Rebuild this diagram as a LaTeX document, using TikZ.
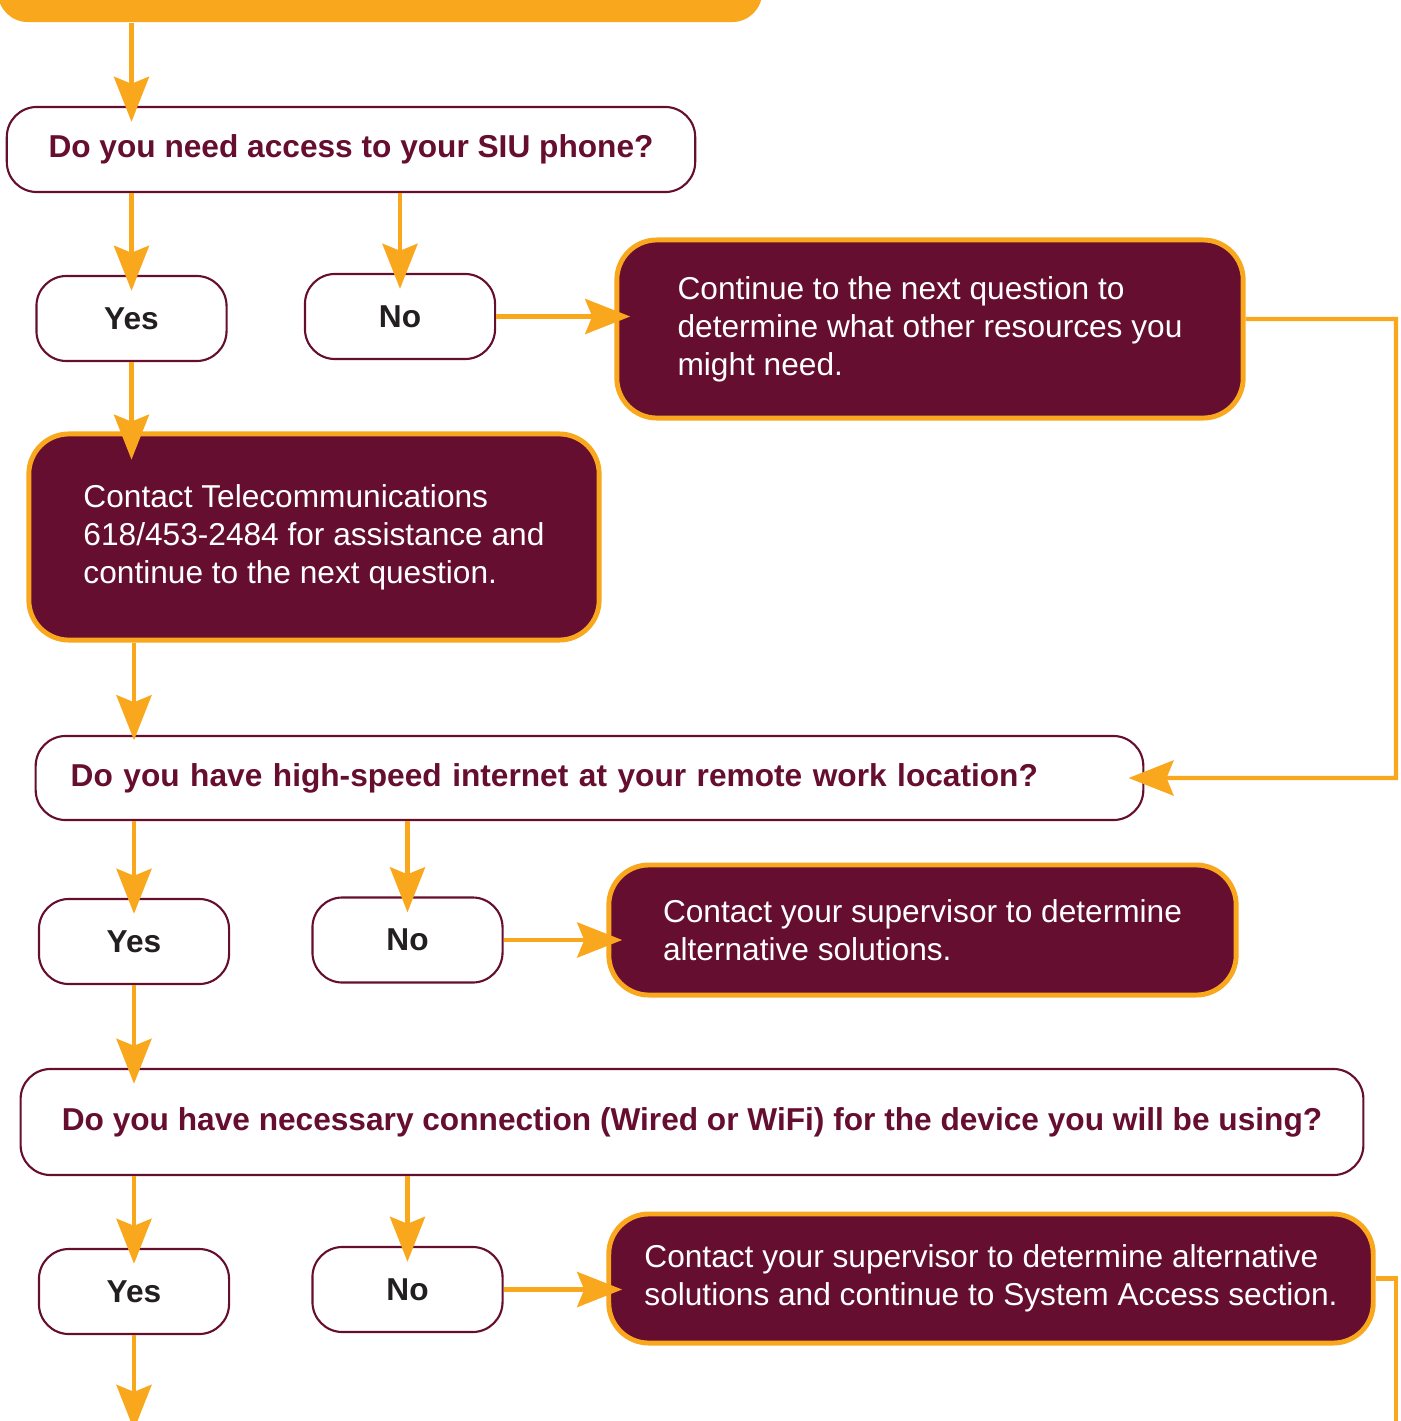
\documentclass[tikz,border=0pt]{standalone}
\usepackage{fontspec}
\setmainfont{Liberation Sans}
\usetikzlibrary{arrows.meta}
\definecolor{siu_maroon}{RGB}{102,14,47}
\definecolor{siu_orange}{RGB}{249,168,30}
\definecolor{dark_gray}{RGB}{35,31,32}

\begin{document}
\begin{tikzpicture}[x=0.01cm,y=-0.01cm,
	question/.style={draw=siu_maroon,line width=0.6pt,fill=white,rounded corners=0.3cm,text=siu_maroon,font=\fontsize{9}{10.8}\selectfont\bfseries,inner sep=0pt,minimum height=0.85cm},
	answer/.style={draw=siu_maroon,line width=0.6pt,fill=white,rounded corners=0.3cm,text=dark_gray,font=\fontsize{9}{10.8}\selectfont\bfseries,inner sep=0pt,minimum width=1.9cm,minimum height=0.85cm},
	infobox/.style={draw=siu_orange,line width=1.4pt,fill=siu_maroon,rounded corners=0.4cm,text=white,align=left,font=\fontsize{9}{10.8}\selectfont,inner sep=0pt},
	flow/.style={siu_orange,line width=1.15pt,-{Stealth[length=12.8pt,width=10pt,inset=2pt]},shorten >=-4.5pt}]
	\useasboundingbox (0,0) rectangle (1401,1421);
	\clip (0,0) rectangle (1401,1421);

	\node[fill=siu_orange,rounded corners=0.3cm,minimum width=7.64cm,minimum height=1.22cm,inner sep=0pt] (start) at (380,-39) {};
	\node[question,minimum width=6.88cm] (phone) at (351,149.5) {Do you need access to your SIU phone?};
	\node[answer] (phone_yes) at (131.5,318.5) {Yes};
	\node[answer] (phone_no) at (400,316.5) {No};
	\node[infobox,minimum width=6.26cm,minimum height=1.78cm] (phone_next) at (930,329) {Continue to the next question to\\determine what other resources you\\might need.};
	\node[infobox,minimum width=5.70cm,minimum height=2.06cm] (telecom) at (314,537) {Contact Telecommunications\\618/453-2484 for assistance and\\continue to the next question.};
	\node[question,text width=10.37cm,align=left,inner xsep=0.35cm,minimum height=0.84cm] (internet) at (589.5,778) {Do you have high-speed internet at your remote work location?};
	\node[answer] (internet_yes) at (134,941.5) {Yes};
	\node[answer] (internet_no) at (407.5,940) {No};
	\node[infobox,minimum width=6.27cm,minimum height=1.30cm] (internet_sup) at (922.5,930) {Contact your supervisor to determine\\alternative solutions.};
	\node[question,minimum width=13.42cm,minimum height=1.06cm] (connection) at (692,1122) {Do you have necessary connection (Wired or WiFi) for the device you will be using?};
	\node[answer] (connection_yes) at (134,1291.5) {Yes};
	\node[answer] (connection_no) at (407.5,1289.5) {No};
	\node[infobox,minimum width=7.64cm,minimum height=1.29cm] (connection_sup) at (991,1278.5) {Contact your supervisor to determine alternative\\solutions and continue to System Access section.};

	\coordinate (loop_top) at (1396,319);
	\coordinate (loop_bottom) at (1396,1440);
	\coordinate (next_section) at (134,1414);

	% phone question
	\draw[flow] (phone_yes |- start.south) -- (phone_yes |- phone.north);
	\draw[flow] (phone_yes |- phone.south) -- (phone_yes.north);
	\draw[flow] (phone_no |- phone.south) -- (phone_no.north);
	\draw[flow] (phone_no.east) -- (phone_no.east -| phone_next.west);
	\draw[flow,shorten >=-8pt] (phone_yes.south) -- (phone_yes |- telecom.north);
	\draw[flow] ([yshift=1mm]phone_next.east) -- (loop_top) |- (internet.east);

	% internet question
	\draw[flow,shorten >=-1.5pt] (internet_yes |- telecom.south) -- (internet_yes |- internet.north);
	\draw[flow] (internet_yes |- internet.south) -- (internet_yes.north);
	\draw[flow] (internet_no |- internet.south) -- (internet_no.north);
	\draw[flow] (internet_no.east) -- (internet_no.east -| internet_sup.west);
	\draw[flow] (internet_yes.south) -- (internet_yes |- connection.north);

	% connection question
	\draw[flow] (connection_yes |- connection.south) -- (connection_yes.north);
	\draw[flow] (connection_no |- connection.south) -- (connection_no.north);
	\draw[flow] (connection_no.east) -- (connection_no.east -| connection_sup.west);
	\draw[flow] (connection_yes.south) -- (next_section);
	\draw[siu_orange,line width=1.15pt] (connection_sup.east) -| (loop_bottom);
\end{tikzpicture}
\end{document}
